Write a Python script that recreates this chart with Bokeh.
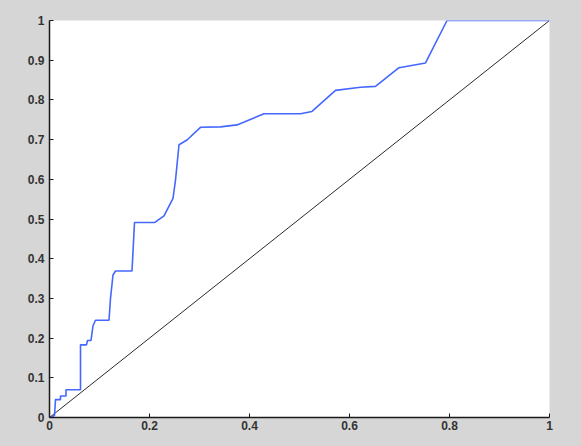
from bokeh.plotting import figure
from bokeh.models import Range1d, FixedTicker
from bokeh.embed import file_html
from bokeh.resources import INLINE

# ROC curve points (false positive rate, true positive rate)
fpr = [0.0, 0.010, 0.012, 0.022, 0.022, 0.033, 0.033, 0.062, 0.062, 0.074,
       0.076, 0.083, 0.087, 0.092, 0.119, 0.122, 0.127, 0.132, 0.165, 0.170,
       0.210, 0.229, 0.247, 0.252, 0.259, 0.275, 0.302, 0.342, 0.375, 0.429,
       0.502, 0.525, 0.572, 0.622, 0.652, 0.699, 0.752, 0.795, 1.0]
tpr = [0.0, 0.005, 0.045, 0.045, 0.054, 0.054, 0.070, 0.070, 0.183, 0.183,
       0.194, 0.194, 0.231, 0.245, 0.245, 0.300, 0.359, 0.369, 0.369, 0.491,
       0.491, 0.508, 0.552, 0.598, 0.687, 0.699, 0.731, 0.732, 0.737, 0.765,
       0.765, 0.771, 0.824, 0.832, 0.834, 0.881, 0.893, 1.0, 1.0]

# chance diagonal
diag_x = [0.0, 1.0]
diag_y = [0.0, 1.0]

x_ticks = [0, 0.2, 0.4, 0.6, 0.8, 1]
y_ticks = [0, 0.1, 0.2, 0.3, 0.4, 0.5, 0.6, 0.7, 0.8, 0.9, 1]

GRAY = "#d6d6d6"

p = figure(width=573, height=438, output_backend="svg", toolbar_location=None,
           x_range=Range1d(0, 1), y_range=Range1d(0, 1),
           min_border_left=49, min_border_right=24, min_border_top=20, min_border_bottom=21)
p.background_fill_color = "white"
p.border_fill_color = GRAY
p.outline_line_color = None
p.grid.visible = False

p.line(diag_x, diag_y, color="#2a2a2a", line_width=1)
p.line(fpr, tpr, color="#4468ff", line_width=1.6)

p.xaxis.ticker = FixedTicker(ticks=x_ticks)
p.yaxis.ticker = FixedTicker(ticks=y_ticks)
p.xaxis.major_label_overrides = {0: "0", 1: "1"}
p.yaxis.major_label_overrides = {0: "0", 1: "1"}
for ax in (p.xaxis[0], p.yaxis[0]):
    ax.axis_line_color = "#1a1a1a"
    ax.axis_line_width = 1.5
    ax.major_tick_line_color = "#1a1a1a"
    ax.major_tick_in = 4
    ax.major_tick_out = 0
    ax.minor_tick_line_color = None
    ax.major_label_text_font = "Liberation Sans"
    ax.major_label_text_font_style = "bold"
    ax.major_label_text_font_size = "12px"
    ax.major_label_text_color = "#333333"
p.xaxis.major_label_standoff = 3
p.yaxis.major_label_standoff = 5

html = file_html(p, INLINE)
html = html.replace("<head>", "<head><style>html,body{background:%s;}</style>" % GRAY, 1)
open("out.html", "w").write(html)
